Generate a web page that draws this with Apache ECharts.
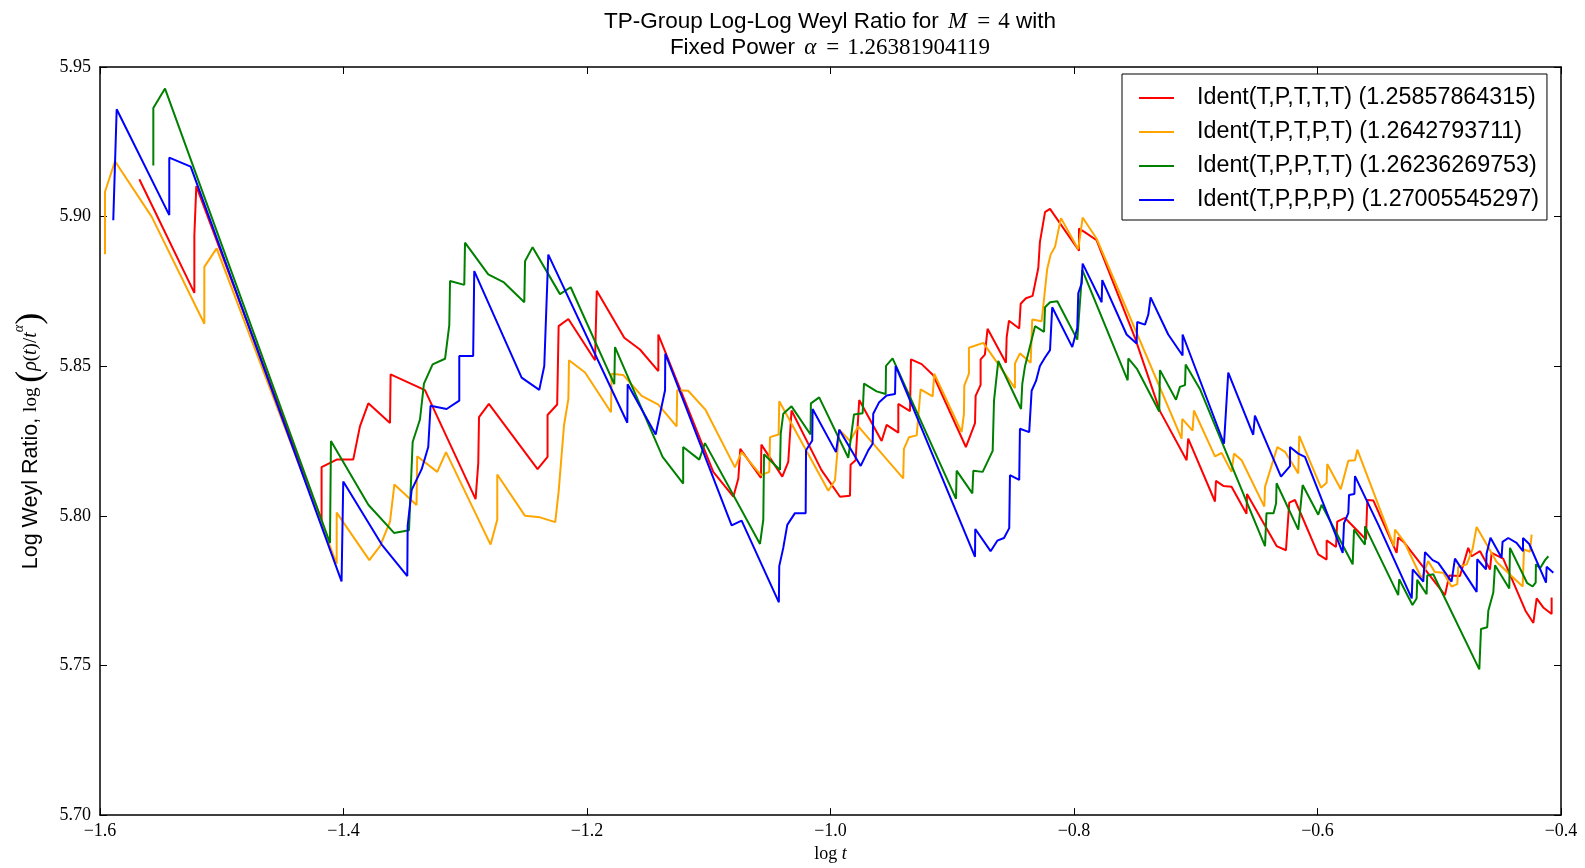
<!DOCTYPE html>
<html>
<head>
<meta charset="utf-8">
<script src="https://cdn.jsdelivr.net/npm/echarts@6/dist/echarts.min.js"></script>
<style>
html,body{margin:0;padding:0;background:#fff;}
#chart{width:1585px;height:868px;}
</style>
</head>
<body>
<div id="chart"></div>
<script>
const seriesNames = [
  'Ident(T,P,T,T,T) (1.25857864315)',
  'Ident(T,P,T,P,T) (1.2642793711)',
  'Ident(T,P,P,T,T) (1.26236269753)',
  'Ident(T,P,P,P,P) (1.27005545297)'
];
const seriesColors = ['#ff0000', '#ffa500', '#008000', '#0000ff'];

const redData = [
  [-1.5677,5.9125],[-1.5225,5.8745],[-1.5225,5.8937],[-1.5209,5.9102],
  [-1.418,5.7984],[-1.418,5.8163],[-1.4056,5.8188],[-1.392,5.8188],[-1.3865,5.8299],[-1.3796,5.8376],
  [-1.3618,5.831],[-1.3613,5.8473],[-1.3331,5.842],[-1.2915,5.8056],[-1.2893,5.8177],[-1.2887,5.833],
  [-1.2806,5.8374],[-1.2406,5.8156],[-1.2324,5.8197],[-1.2324,5.8337],[-1.2245,5.8372],[-1.2233,5.8634],
  [-1.2153,5.8658],[-1.1934,5.852],[-1.192,5.8752],[-1.1694,5.8595],[-1.1565,5.8556],[-1.1414,5.8484],
  [-1.1414,5.8606],[-1.0963,5.8147],[-1.0798,5.8064],[-1.0757,5.8125],[-1.0741,5.8224],[-1.0571,5.8127],
  [-1.0568,5.8238],[-1.0396,5.8131],[-1.0347,5.818],[-1.032,5.8352],[-1.031,5.8355],[-1.0074,5.8153],
  [-0.9922,5.8064],[-0.984,5.8067],[-0.9835,5.8171],[-0.9794,5.8186],[-0.9764,5.8387],[-0.958,5.825],
  [-0.9539,5.8304],[-0.9443,5.8278],[-0.9443,5.8374],[-0.9347,5.835],[-0.9339,5.8523],[-0.9251,5.8507],
  [-0.9156,5.847],[-0.8888,5.823],[-0.8813,5.831],[-0.8808,5.8401],[-0.8767,5.8438],[-0.8767,5.8523],
  [-0.8732,5.8539],[-0.871,5.8625],[-0.8559,5.8512],[-0.8553,5.8597],[-0.8534,5.8652],[-0.845,5.8626],
  [-0.8438,5.8709],[-0.8395,5.8727],[-0.834,5.8735],[-0.8293,5.8829],[-0.828,5.8915],[-0.8238,5.9015],
  [-0.8197,5.9026],[-0.7959,5.8886],[-0.7959,5.896],[-0.7915,5.8949],[-0.7814,5.8921],[-0.7499,5.8595],
  [-0.7294,5.835],[-0.7075,5.8186],[-0.7062,5.8258],[-0.6842,5.8048],[-0.6834,5.8117],[-0.6774,5.81],
  [-0.6706,5.8097],[-0.6583,5.8007],[-0.6579,5.8073],[-0.6336,5.7899],[-0.6259,5.7885],[-0.6232,5.8044],
  [-0.6185,5.8053],[-0.5994,5.7871],[-0.5925,5.7854],[-0.5925,5.7918],[-0.5848,5.7896],[-0.5838,5.7981],
  [-0.5774,5.7993],[-0.5602,5.7921],[-0.5591,5.8053],[-0.5541,5.8051],[-0.535,5.7876],[-0.5337,5.7928],
  [-0.529,5.7912],[-0.4953,5.7735],[-0.4918,5.7801],[-0.483,5.7799],[-0.4762,5.7893],[-0.4734,5.7865],
  [-0.4665,5.7882],[-0.4583,5.7821],[-0.457,5.7876],[-0.4475,5.7857],[-0.4292,5.7683],[-0.4227,5.7642],
  [-0.42,5.7724],[-0.4146,5.7694],[-0.4077,5.7672],[-0.4077,5.7727]
];

const orangeData = [
  [-1.5959,5.8874],[-1.5959,5.9083],[-1.5877,5.9185],[-1.5576,5.9],[-1.5143,5.8642],[-1.5143,5.8832],
  [-1.5042,5.8894],[-1.4056,5.784],[-1.4056,5.8011],[-1.3788,5.7852],[-1.37,5.7899],[-1.3618,5.7981],
  [-1.3582,5.8105],[-1.34,5.8036],[-1.3395,5.8199],[-1.323,5.8147],[-1.3158,5.8213],[-1.2792,5.7904],
  [-1.2737,5.7987],[-1.2737,5.8138],[-1.2509,5.8],[-1.2386,5.7995],[-1.2261,5.7979],[-1.2233,5.8081],
  [-1.2189,5.8302],[-1.2153,5.8391],[-1.2148,5.852],[-1.2016,5.8479],[-1.1803,5.8346],[-1.1798,5.8475],
  [-1.1703,5.8471],[-1.1551,5.8401],[-1.1414,5.8372],[-1.1264,5.8299],[-1.1259,5.842],[-1.1169,5.8418],
  [-1.1026,5.8354],[-1.0785,5.8162],[-1.073,5.8213],[-1.0571,5.8136],[-1.0503,5.8147],[-1.0497,5.8263],
  [-1.0426,5.8272],[-1.0421,5.8383],[-1.0018,5.8084],[-0.9963,5.8119],[-0.9928,5.8288],[-0.984,5.825],
  [-0.9772,5.8299],[-0.9662,5.8247],[-0.9403,5.8125],[-0.9397,5.8224],[-0.9355,5.8263],[-0.9292,5.8269],
  [-0.926,5.8423],[-0.9161,5.8399],[-0.9148,5.8475],[-0.8923,5.828],[-0.8904,5.8341],[-0.8901,5.8435],
  [-0.8863,5.8475],[-0.8863,5.8562],[-0.8745,5.8578],[-0.8485,5.8427],[-0.8485,5.8509],[-0.8444,5.8543],
  [-0.8356,5.8512],[-0.8343,5.8656],[-0.8266,5.865],[-0.822,5.8825],[-0.8192,5.8873],[-0.8156,5.8899],
  [-0.8107,5.8995],[-0.7965,5.8891],[-0.7929,5.8997],[-0.7814,5.8926],[-0.7116,5.8258],[-0.7111,5.8324],
  [-0.7026,5.8285],[-0.7015,5.8352],[-0.6842,5.8199],[-0.6787,5.821],[-0.6706,5.8147],[-0.6686,5.8208],
  [-0.6623,5.8186],[-0.6437,5.8031],[-0.6431,5.8097],[-0.633,5.823],[-0.6267,5.8214],
  [-0.6158,5.8142],[-0.615,5.8267],[-0.5971,5.8094],[-0.5925,5.8111],[-0.592,5.8173],[-0.5809,5.8089],
  [-0.5747,5.8184],[-0.5692,5.8186],[-0.5673,5.8221],[-0.5372,5.7899],[-0.5363,5.7954],[-0.529,5.7915],
  [-0.5144,5.779],[-0.5091,5.7849],[-0.5036,5.7812],[-0.4967,5.781],[-0.4899,5.7764],[-0.4852,5.7772],
  [-0.4844,5.7829],[-0.4774,5.7838],[-0.4726,5.789],[-0.4693,5.7963],[-0.4528,5.7846],[-0.4315,5.7764],
  [-0.4304,5.7888],[-0.4255,5.788],[-0.4241,5.7937]
];

const greenData = [
  [-1.5562,5.9171],[-1.5562,5.9363],[-1.5466,5.9428],[-1.4111,5.7909],[-1.4103,5.825],[-1.3796,5.8037],
  [-1.3585,5.7943],[-1.3462,5.7952],[-1.3432,5.8247],[-1.3372,5.8322],[-1.3339,5.8442],[-1.3268,5.8506],
  [-1.3166,5.8525],[-1.3131,5.8637],[-1.3125,5.8785],[-1.3008,5.8772],[-1.3002,5.8913],[-1.2811,5.8807],
  [-1.2682,5.878],[-1.2515,5.8714],[-1.2509,5.8851],[-1.2447,5.8898],[-1.2222,5.8741],[-1.2134,5.8764],
  [-1.1776,5.844],[-1.177,5.8564],[-1.1379,5.8197],[-1.121,5.8108],[-1.121,5.823],[-1.1078,5.8188],
  [-1.1031,5.8243],[-1.0579,5.7906],[-1.0552,5.7987],[-1.0546,5.8206],[-1.0415,5.8153],[-1.0409,5.8274],
  [-1.0388,5.8341],[-1.032,5.8366],[-1.0164,5.8272],[-1.0161,5.8376],[-1.0093,5.8396],[-0.9854,5.8194],
  [-0.9807,5.8339],[-0.9736,5.8343],[-0.9725,5.8442],[-0.9621,5.8416],[-0.9547,5.8407],[-0.9544,5.8501],
  [-0.949,5.8526],[-0.8969,5.8057],[-0.8964,5.8151],[-0.8835,5.8075],[-0.8827,5.8151],[-0.875,5.8147],
  [-0.8668,5.8217],[-0.8657,5.8385],[-0.8622,5.8518],[-0.8435,5.8357],[-0.8425,5.844],[-0.8403,5.8499],
  [-0.832,5.8634],[-0.8246,5.8615],[-0.8238,5.8697],[-0.8197,5.8714],[-0.8137,5.8717],[-0.7973,5.8589],
  [-0.7932,5.8822],[-0.7559,5.8453],[-0.7554,5.8526],[-0.7481,5.849],[-0.73,5.8349],[-0.7294,5.8487],
  [-0.7162,5.8388],[-0.713,5.8431],[-0.7088,5.8437],[-0.7083,5.8506],[-0.6966,5.8424],[-0.6431,5.7899],
  [-0.6419,5.8009],[-0.6361,5.8009],[-0.634,5.8042],[-0.6336,5.8109],[-0.6158,5.7954],[-0.6122,5.8103],
  [-0.5994,5.8004],[-0.5966,5.8037],[-0.5711,5.7838],[-0.57,5.7954],[-0.561,5.7904],[-0.561,5.7965],
  [-0.5337,5.7735],[-0.5329,5.7788],[-0.522,5.7702],[-0.5186,5.7724],[-0.5181,5.7786],[-0.5104,5.7738],
  [-0.5099,5.7801],[-0.5049,5.7805],[-0.4671,5.7487],[-0.4657,5.7622],[-0.4606,5.7628],[-0.4597,5.7683],
  [-0.4556,5.7744],[-0.4542,5.7835],[-0.4425,5.7757],[-0.4419,5.7893],[-0.4277,5.7775],[-0.4233,5.7764],
  [-0.4208,5.7777],[-0.4206,5.7838],[-0.4172,5.7825],[-0.4131,5.7852],[-0.4104,5.7865]
];

const blueData = [
  [-1.5891,5.8988],[-1.5863,5.9359],[-1.5431,5.9005],[-1.5431,5.9197],[-1.5255,5.9167],[-1.4016,5.7781],
  [-1.4002,5.8115],[-1.3686,5.7904],[-1.3476,5.7799],[-1.3473,5.7967],[-1.344,5.8087],[-1.3358,5.8156],
  [-1.3304,5.823],[-1.3285,5.8368],[-1.3153,5.8357],[-1.3049,5.8385],[-1.3049,5.8534],[-1.2935,5.8534],
  [-1.2926,5.8818],[-1.2537,5.8462],[-1.2392,5.8421],[-1.2351,5.8501],[-1.2318,5.8873],[-1.1669,5.8311],
  [-1.1666,5.844],[-1.1436,5.8272],[-1.1359,5.842],[-1.1357,5.8542],[-1.0812,5.7968],[-1.073,5.7984],
  [-1.0424,5.7711],[-1.0421,5.7832],[-1.0388,5.7893],[-1.0355,5.797],[-1.0292,5.8009],[-1.0204,5.8009],
  [-1.0201,5.8219],[-1.015,5.8252],[-1.0147,5.8357],[-0.9955,5.8213],[-0.9928,5.8288],[-0.9752,5.8167],
  [-0.969,5.8219],[-0.9654,5.8241],[-0.9649,5.8341],[-0.96,5.838],[-0.9539,5.8402],[-0.947,5.8407],
  [-0.9465,5.8501],[-0.8813,5.7863],[-0.8811,5.7956],[-0.8685,5.7882],[-0.863,5.7917],[-0.8575,5.7926],
  [-0.8532,5.7959],[-0.8526,5.8136],[-0.845,5.812],[-0.8444,5.8291],[-0.8368,5.828],[-0.8348,5.8418],
  [-0.8312,5.8451],[-0.828,5.8501],[-0.8238,5.8529],[-0.8197,5.8554],[-0.8179,5.8697],[-0.8014,5.8564],
  [-0.7973,5.8628],[-0.7965,5.8744],[-0.7937,5.8777],[-0.7929,5.8843],[-0.7773,5.8714],[-0.7768,5.8788],
  [-0.7568,5.8606],[-0.7486,5.8576],[-0.7481,5.8648],[-0.7417,5.8639],[-0.739,5.8672],[-0.7371,5.873],
  [-0.7226,5.8606],[-0.7108,5.8536],[-0.7108,5.8606],[-0.6768,5.8241],[-0.6733,5.8479],[-0.6528,5.8271],
  [-0.6514,5.8335],[-0.63,5.8131],[-0.6226,5.8166],[-0.6226,5.823],[-0.6158,5.8208],[-0.6103,5.8197],
  [-0.5793,5.7876],[-0.5782,5.7976],[-0.5747,5.8009],[-0.5741,5.807],[-0.5697,5.8073],[-0.5692,5.8133],
  [-0.55,5.797],[-0.5226,5.7724],[-0.5218,5.7821],[-0.5131,5.778],[-0.5117,5.7879],[-0.5054,5.7852],
  [-0.5008,5.7843],[-0.4899,5.778],[-0.4871,5.7857],[-0.4693,5.7746],[-0.4688,5.7855],[-0.4616,5.7821],
  [-0.4611,5.7874],[-0.4579,5.7927],[-0.4488,5.786],[-0.448,5.7913],[-0.4433,5.7926],[-0.4365,5.791],
  [-0.4312,5.7882],[-0.4312,5.7926],[-0.4261,5.7906],[-0.4123,5.7777],[-0.4118,5.783],[-0.4063,5.781]
];

const allData = [redData, orangeData, greenData, blueData];

const SANS = 'Liberation Sans, Arial, sans-serif';
const SERIF = 'Liberation Serif, DejaVu Serif, serif';

const fmtX = v => (Math.round(v * 10) / 10).toFixed(1).replace('-', '\u2212');
const fmtY = v => (Math.round(v * 100) / 100).toFixed(2);

const tickStyle = { show: true, inside: true, length: 7, lineStyle: { color: '#000', width: 1 } };
const lineStyleAxis = { show: true, onZero: false, lineStyle: { color: '#000', width: 1.5 } };

const tSans = { fontFamily: SANS, fontSize: 22.5, fontWeight: 'normal', color: '#000', lineHeight: 26 };
const tMi = { fontFamily: SERIF, fontStyle: 'italic', fontWeight: 'normal', fontSize: 23, color: '#000', lineHeight: 26 };
const tMr = { fontFamily: SERIF, fontWeight: 'normal', fontSize: 23, color: '#000', lineHeight: 26 };

const chart = echarts.init(document.getElementById('chart'), null, { renderer: 'canvas' });
chart.setOption({
  animation: false,
  backgroundColor: '#fff',
  title: {
    left: 830, top: 9, textAlign: 'center', padding: 0,
    text: '{s|TP-Group Log-Log Weyl Ratio for }{mi|M}{eq|=}{mr|4}{s| with}\n{s|Fixed Power }{mi|\u03b1}{eq|=}{mr|1.26381904119}',
    textStyle: {
      fontWeight: 'normal',
      rich: {
        s: tSans,
        mi: Object.assign({}, tMi, { padding: [0, 2, 0, 3] }),
        mr: tMr,
        eq: Object.assign({}, tMr, { padding: [0, 8, 0, 8] })
      }
    }
  },
  legend: {
    orient: 'vertical', left: 1122, top: 74,
    padding: [12, 8, 8, 17], itemGap: 10,
    backgroundColor: '#fff', borderColor: '#000', borderWidth: 1, borderRadius: 0,
    itemWidth: 35, itemHeight: 14,
    icon: 'path://M0,0 L35,0 L35,2 L0,2 Z',
    textStyle: { fontFamily: SANS, fontSize: 23.3, color: '#000', lineHeight: 24, padding: [0, 0, 0, 18] },
    data: seriesNames
  },
  grid: { left: 100, right: 24, top: 67, bottom: 47, containLabel: false },
  xAxis: [{
    type: 'value', min: -1.6, max: -0.4, interval: 0.2, position: 'bottom',
    axisLine: lineStyleAxis, axisTick: tickStyle, splitLine: { show: false },
    axisLabel: { formatter: fmtX, fontFamily: SERIF, fontSize: 18, color: '#000', margin: 7 },
    name: '{mr|log }{mi|t}', nameLocation: 'middle', nameGap: 29,
    nameTextStyle: { rich: {
      mr: { fontFamily: SERIF, fontSize: 18, color: '#000' },
      mi: { fontFamily: SERIF, fontStyle: 'italic', fontSize: 18, color: '#000' }
    } }
  }, {
    type: 'value', min: -1.6, max: -0.4, interval: 0.2, position: 'top',
    axisLine: lineStyleAxis, axisTick: tickStyle, splitLine: { show: false },
    axisLabel: { show: false }
  }],
  yAxis: [{
    type: 'value', min: 5.70, max: 5.95, interval: 0.05, position: 'left',
    axisLine: lineStyleAxis, axisTick: tickStyle, splitLine: { show: false },
    axisLabel: { formatter: fmtY, fontFamily: SERIF, fontSize: 18, color: '#000', margin: 9 },
    name: '{s|Log Weyl Ratio, }{mr|log }{p|(}{mi|\u03c1}{mr|(}{mi|t}{mr|)/}{mi|t}{sup|\u03b1}{p|)}',
    nameLocation: 'middle', nameGap: 48, nameRotate: 90,
    nameTextStyle: { rich: {
      s: { fontFamily: SANS, fontSize: 21.5, color: '#000', lineHeight: 36 },
      mr: { fontFamily: SERIF, fontSize: 19, color: '#000', lineHeight: 36 },
      mi: { fontFamily: SERIF, fontStyle: 'italic', fontSize: 20, color: '#000', lineHeight: 36 },
      p: { fontFamily: SERIF, fontSize: 36, color: '#000', lineHeight: 36 },
      sup: { fontFamily: SERIF, fontStyle: 'italic', fontSize: 14, color: '#000', lineHeight: 28, verticalAlign: 'top' }
    } }
  }, {
    type: 'value', min: 5.70, max: 5.95, interval: 0.05, position: 'right',
    axisLine: lineStyleAxis, axisTick: tickStyle, splitLine: { show: false },
    axisLabel: { show: false }
  }],
  series: allData.map((d, i) => ({
    name: seriesNames[i], type: 'line', data: d,
    xAxisIndex: 0, yAxisIndex: 0,
    showSymbol: false, symbol: 'none', smooth: false,
    color: seriesColors[i],
    lineStyle: { color: seriesColors[i], width: 2 },
    emphasis: { disabled: true }
  }))
});
</script>
</body>
</html>
